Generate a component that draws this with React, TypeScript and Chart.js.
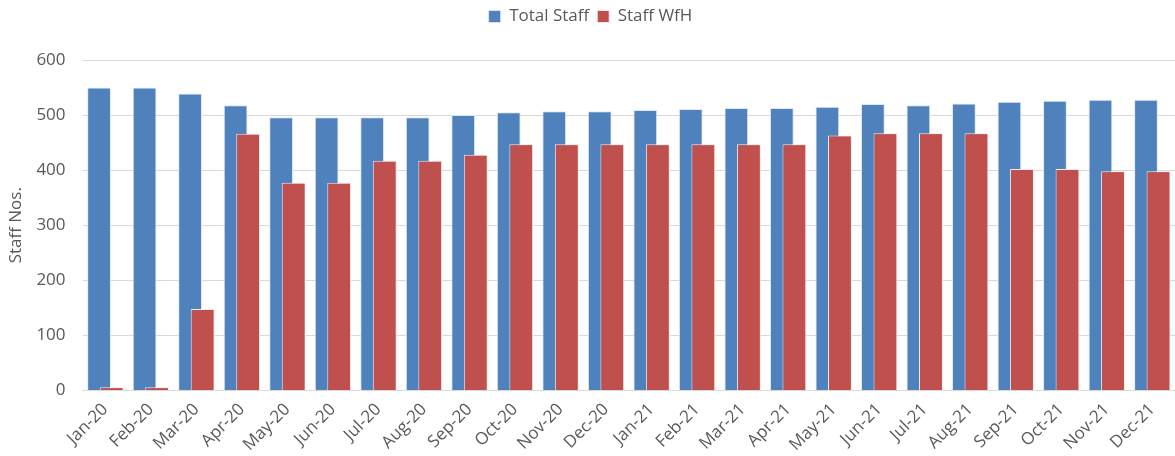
import React, { useEffect, useRef } from "react";
import { Chart, registerables } from "chart.js";

Chart.register(...registerables);

const months = [
  "Jan-20", "Feb-20", "Mar-20", "Apr-20", "May-20", "Jun-20", "Jul-20", "Aug-20",
  "Sep-20", "Oct-20", "Nov-20", "Dec-20", "Jan-21", "Feb-21", "Mar-21", "Apr-21",
  "May-21", "Jun-21", "Jul-21", "Aug-21", "Sep-21", "Oct-21", "Nov-21", "Dec-21",
];

const totalStaff = [
  550, 550, 539, 518, 496, 496, 496, 496, 500, 505, 507, 507,
  509, 511, 513, 513, 515, 520, 518, 521, 524, 526, 528, 528,
];

const staffWfH = [
  6, 6, 148, 466, 377, 377, 417, 417, 428, 447, 447, 447,
  447, 447, 447, 447, 463, 467, 467, 467, 402, 402, 398, 398,
];

const yTicks = [0, 100, 200, 300, 400, 500, 600];

const FONT = "'Open Sans', 'Noto Sans', sans-serif";
const GREY = "#595959";

const redOnTop = {
  id: "redOnTop",
  afterDatasetsDraw(chart: any) {
    const meta = chart.getDatasetMeta(1);
    const ctx = chart.ctx;
    const a = chart.chartArea;
    ctx.save();
    ctx.beginPath();
    ctx.rect(a.left, a.top, a.right - a.left, a.bottom - a.top);
    ctx.clip();
    meta.data.forEach((el: any) => el.draw(ctx));
    ctx.restore();
  },
};

const legendGap = {
  id: "legendGap",
  beforeInit(chart: any) {
    const legend = chart.legend;
    if (!legend) return;
    const origFit = legend.fit;
    legend.fit = function () {
      origFit.call(this);
      this.height += 25;
    };
  },
};

export default function App() {
  const ref = useRef<HTMLCanvasElement | null>(null);
  useEffect(() => {
    if (!ref.current) return;
    const chart = new Chart(ref.current, {
      type: "bar",
      data: {
        labels: months,
        datasets: [
          {
            label: "Total Staff",
            data: totalStaff,
            backgroundColor: "#4F81BD",
            borderColor: "rgba(220,230,245,0.9)",
            borderWidth: 1,
            categoryPercentage: 0.55,
            barPercentage: 1.9,
          },
          {
            label: "Staff WfH",
            data: staffWfH,
            backgroundColor: "#C0504D",
            borderColor: "rgba(250,235,235,0.95)",
            borderWidth: 1,
            categoryPercentage: 0.55,
            barPercentage: 1.9,
          },
        ],
      },
      options: {
        animation: false,
        responsive: true,
        maintainAspectRatio: false,
        layout: { padding: { top: 0, right: 0, left: 6, bottom: 0 } },
        plugins: {
          tooltip: { enabled: false },
          legend: {
            position: "top",
            labels: {
              boxWidth: 12,
              boxHeight: 12,
              color: GREY,
              font: { family: FONT, size: 17 },
              padding: 8,
            },
          },
        },
        scales: {
          x: {
            grid: { display: false },
            border: { color: "#d9d9d9", width: 1 },
            afterFit: (s: any) => {
              s.paddingLeft = 0;
              s.paddingRight = 0;
            },
            ticks: {
              color: GREY,
              font: { family: FONT, size: 17 },
              minRotation: 45,
              maxRotation: 45,
              autoSkip: false,
              padding: 1,
            },
          },
          y: {
            min: 0,
            max: 600,
            afterBuildTicks: (axis: any) => {
              axis.ticks = yTicks.map((v) => ({ value: v }));
            },
            afterFit: (s: any) => {
              s.width -= s.options.ticks.padding;
            },
            grid: { color: "#d9d9d9", lineWidth: 1, drawTicks: false },
            border: { display: false },
            ticks: {
              color: GREY,
              font: { family: FONT, size: 17 },
              padding: 17,
            },
            title: {
              display: true,
              text: "Staff Nos.",
              color: GREY,
              font: { family: FONT, size: 17 },
              padding: { top: 0, bottom: 10 },
            },
          },
        },
      },
      plugins: [redOnTop, legendGap],
    });
    return () => chart.destroy();
  }, []);
  return (
    <div style={{ position: "absolute", left: 0, top: 0, width: 1175, height: 456 }}>
      <canvas ref={ref} />
    </div>
  );
}
